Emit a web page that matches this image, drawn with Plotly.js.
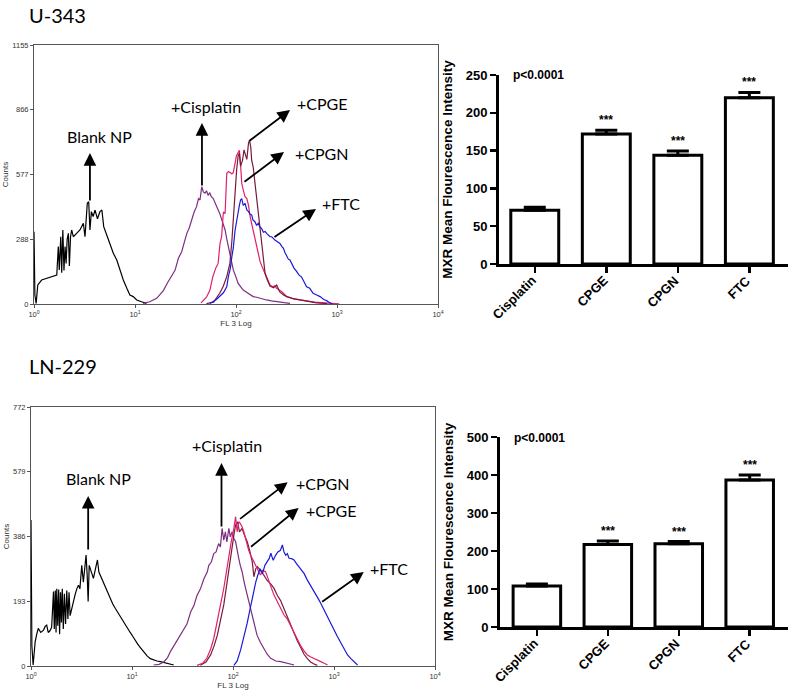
<!DOCTYPE html>
<html><head><meta charset="utf-8">
<script src="https://cdn.plot.ly/plotly-3.0.1.min.js"></script>
<style>html,body{margin:0;padding:0;background:#fff}#chart{width:788px;height:691px}</style>
</head><body><div id="chart"></div><script>
// ---------- Bar chart data ----------
const categories = ['Cisplatin', 'CPGE', 'CPGN', 'FTC'];
const u343Mean = [71, 172, 144, 220];
const u343Err = [4, 5, 5.5, 7];
const ln229Mean = [108, 217, 219, 387];
const ln229Err = [5, 9, 6, 13];
const sigStars = ['', '***', '***', '***'];
const pText = 'p<0.0001';

// ---------- Histogram data: U-343 (FL3 value, counts) ----------
const u343BlankX = [1.00,1.02,1.05,1.09,1.19,1.33,1.50,1.68,1.74,1.78,1.84,1.88,1.93,1.98,2.03,2.08,2.13,2.19,2.24,2.30,2.36,2.45,2.64,2.85,3.08,3.20,3.37,3.48,3.58,3.70,3.85,4.02,4.25,4.50,4.70,4.90,5.25,5.66,6.10,6.60,7.10,7.66,8.30,8.90,9.60,10.4,11.6,13.0];
const u343BlankY = [322,40,3,85,107,114,122,129,256,152,300,140,330,150,256,181,290,315,170,300,330,300,315,330,360,300,449,456,330,412,390,419,380,412,419,345,308,270,226,196,152,107,70,40,33,18,10,3];
const u343CisX = [12,14,16.4,19.1,21,22.2,24,24.9,26.9,29,31,32.6,34.5,36.3,38.5,40.7,42.5,44,45.8,47.5,49.4,51,53,55,57,59.5,62,65,69,73,78,81,84,89,94,100,105,112,118,125,132,140,148,160,172,185,200,225,252,300,343];
const u343CisY = [3,10,25,60,95,115,140,150,204,233,280,315,340,375,410,434,470,464,523,500,494,505,486,495,479,470,449,430,404,370,330,290,256,200,152,120,92,75,62,55,48,40,33,30,25,20,18,14,10,6,3];
const u343CpgnX = [45,51,55,59,63,66.5,69.5,72,75,78,81,84,88,91,94,98,101,105,108,111,114,118,123,128,133,138,143,148,154,160,166,173,180,187,194,201,209,217,225,234,243,252,262,273,284,295,318,345,380,430,500,600,750,900,1050];
const u343CpgnY = [5,30,60,122,160,181,270,300,410,404,583,590,586,580,586,640,660,675,685,620,538,508,479,470,440,390,360,330,285,256,225,190,170,150,135,122,105,85,80,77,82,70,66,62,55,48,33,28,22,18,12,8,5,3,1];
const u343CpgeX = [51,60,69,75,81,87,91,94,98,101.5,105,108,111,116,120,125,128,133,136,140,143,148,154,160,166,172,180,187,194,201,209,217,235,253,270,295,318,360,430,520,630,800];
const u343CpgeY = [2,8,48,80,122,181,280,389,523,600,660,672,615,640,687,660,645,717,731,700,640,610,540,480,404,340,256,200,137,115,95,80,72,85,55,40,33,25,18,10,5,2];
const u343FtcX = [55,64,75,81,84,88,91,94,98,102,105,108,111,114,118,123,128,133,138,143,147,154,160,166,172,180,187,194,201,210,217,226,235,243,253,263,272,285,295,305,317,330,342,355,375,398,420,446,463,500,537,580,630,680,740,790,850,900];
const u343FtcY = [2,20,50,77,122,160,211,250,330,380,419,440,464,470,440,449,419,412,400,397,375,367,350,360,345,335,320,323,315,305,300,300,290,285,280,275,270,256,248,230,211,200,196,181,160,145,130,120,107,77,70,48,40,33,20,15,5,1];

// ---------- Histogram data: LN-229 ----------
const ln229BlankX = [1.00,1.02,1.05,1.10,1.14,1.18,1.25,1.33,1.38,1.43,1.48,1.54,1.60,1.67,1.70,1.74,1.77,1.80,1.84,1.88,1.92,1.96,2.00,2.04,2.09,2.14,2.20,2.26,2.32,2.38,2.44,2.53,2.63,2.73,2.84,2.95,3.05,3.12,3.18,3.30,3.40,3.51,3.60,3.68,3.77,3.85,4.00,4.15,4.35,4.55,4.70,4.84,5.10,5.42,5.75,6.08,6.45,6.82,7.20,7.64,8.10,8.57,9.10,9.60,10.2,10.8,11.4,12.1,13.0,14.1,15.2,16.4,17.7,19.1,20.6,22.2,24.0,25.9];
const ln229BlankY = [435,60,3,73,95,112,100,107,118,122,100,105,115,222,110,225,100,230,120,228,95,220,130,230,110,215,125,225,140,220,150,172,200,212,230,241,230,271,300,250,290,331,270,192,300,291,270,261,290,316,280,271,255,236,220,202,185,172,160,147,135,122,110,100,88,75,65,55,42,30,22,18,15,13,10,8,5,3];
const ln229CisX = [16.4,18.5,20.6,22.5,24,26,28,30,32.5,35,38,41,44,47.6,51.5,55.6,57.6,61,64.5,68,72,75,78,81,84,87,91,94,98,102,106,110,114,118,123,130,138,146,155,164,173,187,202,218,236,265,297,350,403];
const ln229CisY = [3,5,12,25,43,60,75,90,110,125,160,180,210,230,260,280,300,310,335,340,365,355,410,375,400,370,410,385,400,380,371,340,321,300,281,245,212,180,152,120,92,70,53,35,23,15,13,8,3];
const ln229CpgnX = [44,50,55,60,64.5,68,72,76,81,86,91,96,102,106,110,114,118,123,128,133,138,143,149,155,161,168,175,187,197,210,220,227,240,254,275,297,320,345,372,403,435,468,505,545,590,635,690,740,800,863];
const ln229CpgnY = [2,8,23,50,82,115,152,190,231,280,331,370,410,445,400,430,425,415,400,380,361,345,331,320,311,300,291,271,285,281,265,251,232,212,192,172,152,140,120,100,80,60,45,33,27,23,18,13,8,3];
const ln229CpgeX = [47.5,54,60,65,70,75,81,86,91,96,102,106,111,116,123,130,138,146,150,155,161,168,175,188,202,218,236,254,275,296,320,345,372,402,433,468,505,545,587,635,683];
const ln229CpgeY = [2,12,33,60,92,135,182,235,291,340,390,420,430,400,410,390,371,345,330,311,266,290,296,285,271,255,245,232,210,195,170,150,125,100,75,55,35,22,12,6,2];
const ln229FtcX = [102,110,119,128,138,150,161,168,174,185,196,207,218,228,237,250,264,278,295,308,320,333,345,359,380,402,425,451,478,505,545,588,620,659,700,739,800,860,930,1003,1080,1169,1260,1362,1470,1587,1710];
const ln229FtcY = [2,15,48,85,127,180,227,250,266,290,276,300,311,320,336,315,330,340,345,361,340,330,335,321,320,316,305,296,285,276,256,240,227,215,200,187,165,147,127,107,88,68,50,33,22,13,3];

const histLabels = ['Blank NP', '+Cisplatin', '+CPGE', '+CPGN', '+FTC'];
const u343Ticks = [0, 288, 577, 866, 1155];
const ln229Ticks = [0, 193, 386, 579, 772];
const logTickVals = [1, 10, 100, 1000, 10000];
const logTickText = ['10<sup>0</sup>', '10<sup>1</sup>', '10<sup>2</sup>', '10<sup>3</sup>', '10<sup>4</sup>'];

// ---------- styles ----------
const colBlank = '#000000', colCis = '#7d2e82', colCpgn = '#e0206e', colCpge = '#7a1a3a', colFtc = '#1a1ad6';
const W = 788, H = 691;
const px = v => v / W, py = v => 1 - v / H;

function line(x, y, c, xa, ya) {
  return {type: 'scatter', mode: 'lines', x: x, y: y, xaxis: xa, yaxis: ya,
    line: {color: c, width: 1.2}, hoverinfo: 'skip'};
}
function bars(mean, err, xa, ya) {
  return {type: 'bar', x: categories, y: mean, xaxis: xa, yaxis: ya, width: 0.67,
    marker: {color: '#ffffff', line: {color: '#000', width: 3}},
    error_y: {type: 'data', symmetric: false, array: err, arrayminus: err.map(() => 0),
      color: '#000', thickness: 3, width: 11}, hoverinfo: 'skip'};
}

const traces = [
  line(u343BlankX, u343BlankY, colBlank, 'x', 'y'),
  line(u343CisX, u343CisY, colCis, 'x', 'y'),
  line(u343CpgnX, u343CpgnY, colCpgn, 'x', 'y'),
  line(u343CpgeX, u343CpgeY, colCpge, 'x', 'y'),
  line(u343FtcX, u343FtcY, colFtc, 'x', 'y'),
  bars(u343Mean, u343Err, 'x2', 'y2'),
  line(ln229BlankX, ln229BlankY, colBlank, 'x3', 'y3'),
  line(ln229CisX, ln229CisY, colCis, 'x3', 'y3'),
  line(ln229CpgeX, ln229CpgeY, colCpge, 'x3', 'y3'),
  line(ln229CpgnX, ln229CpgnY, colCpgn, 'x3', 'y3'),
  line(ln229FtcX, ln229FtcY, colFtc, 'x3', 'y3'),
  bars(ln229Mean, ln229Err, 'x4', 'y4')
];

const smallFont = {family: 'Liberation Sans, Arial, sans-serif', size: 7.5, color: '#333'};
function histX(dom, anchor) {
  return {type: 'log', domain: dom, anchor: anchor, range: [0, 4], tickvals: logTickVals, ticktext: logTickText,
    showline: true, mirror: true, linecolor: '#555', linewidth: 1, ticks: 'outside', ticklen: 3, tickcolor: '#555',
    tickfont: smallFont, showgrid: false, zeroline: false,
    title: {text: 'FL 3 Log', font: {family: 'Liberation Sans, Arial, sans-serif', size: 8, color: '#333'}, standoff: 1}};
}
function histY(dom, anchor, ticks) {
  return {domain: dom, anchor: anchor, range: [0, ticks[4]], tickvals: ticks, ticktext: ticks.map(String),
    showline: true, mirror: true, linecolor: '#555', linewidth: 1, ticks: 'outside', ticklen: 3, tickcolor: '#555',
    tickfont: smallFont, showgrid: false, zeroline: false,
    title: {text: 'Counts', font: {family: 'Liberation Sans, Arial, sans-serif', size: 8, color: '#333'}, standoff: 2}};
}
const boldFont = {family: 'Liberation Sans, Arial, sans-serif', size: 13, color: '#000', weight: 'bold'};
function barX(dom, anchor, rng) {
  return {domain: dom, anchor: anchor, range: rng, showline: true, linecolor: '#000', linewidth: 3,
    ticks: 'outside', ticklen: 6, tickwidth: 2.5, tickcolor: '#000', showticklabels: false,
    showgrid: false, zeroline: false};
}
function barY(dom, anchor, top, dt) {
  return {domain: dom, anchor: anchor, range: [0, top], dtick: dt, showline: true, linecolor: '#000', linewidth: 3,
    ticks: 'outside', ticklen: 6, tickwidth: 2.5, tickcolor: '#000', tickfont: boldFont,
    showgrid: false, zeroline: false,
    title: {text: 'MXR Mean Flourescence Intensity', font: {family: 'Liberation Sans, Arial, sans-serif', size: 13.5, color: '#000', weight: 'bold'}, standoff: 10}};
}

const ann = [];
const labelFont = {family: 'Lato, sans-serif', size: 16, color: '#000'};
function addLabel(xr, yr, text, lx, ly) {
  ann.push({xref: xr, yref: yr, x: lx, y: ly, text: text, showarrow: false, font: labelFont, xanchor: 'center', yanchor: 'middle'});
}
function addArrow(xr, yr, tx, ty, hx, hy) {
  ann.push({xref: xr, yref: yr, axref: xr, ayref: yr, x: hx, y: hy, ax: tx, ay: ty, text: '', showarrow: true,
    arrowhead: 2, arrowsize: 1.4, arrowwidth: 1.8, arrowcolor: '#000', standoff: 0, startstandoff: 0});
}
// U-343 labels (x in log10 units on the log axis)
addLabel('x', 'y', histLabels[0], 0.644, 749); addArrow('x', 'y', 0.554, 455, 0.554, 673);
addLabel('x', 'y', histLabels[1], 1.703, 879); addArrow('x', 'y', 1.663, 522, 1.663, 807);
addLabel('x', 'y', histLabels[2], 2.861, 896); addArrow('x', 'y', 2.119, 723, 2.535, 865);
addLabel('x', 'y', histLabels[3], 2.851, 673); addArrow('x', 'y', 2.069, 540, 2.475, 678);
addLabel('x', 'y', histLabels[4], 3.04, 446); addArrow('x', 'y', 2.366, 294, 2.792, 424);
// LN-229 labels
addLabel('x3', 'y3', histLabels[0], 0.665, 560); addArrow('x3', 'y3', 0.566, 343, 0.566, 507);
addLabel('x3', 'y3', histLabels[1], 1.945, 656); addArrow('x3', 'y3', 1.886, 411, 1.886, 605);
addLabel('x3', 'y3', histLabels[3], 2.888, 543); addArrow('x3', 'y3', 2.055, 435, 2.541, 548);
addLabel('x3', 'y3', histLabels[2], 2.978, 462); addArrow('x3', 'y3', 2.164, 352, 2.65, 471);
addLabel('x3', 'y3', histLabels[4], 3.543, 292); addArrow('x3', 'y3', 2.868, 188, 3.295, 280);

// rotated category labels and stars above bars
const starFont = {family: 'Liberation Sans, Arial, sans-serif', size: 12, color: '#000', weight: 'bold'};
categories.forEach((c, i) => {
  ann.push({xref: 'x2', yref: 'y2', x: c, y: 0, text: c, textangle: -45, showarrow: false, font: boldFont,
    xanchor: 'right', yanchor: 'top', xshift: 7, yshift: -6});
  ann.push({xref: 'x4', yref: 'y4', x: c, y: 0, text: c, textangle: -45, showarrow: false, font: boldFont,
    xanchor: 'right', yanchor: 'top', xshift: 7, yshift: -6});
  if (sigStars[i]) {
    ann.push({xref: 'x2', yref: 'y2', x: c, y: u343Mean[i] + u343Err[i], text: sigStars[i], showarrow: false, font: starFont, yanchor: 'bottom', yshift: 1});
    ann.push({xref: 'x4', yref: 'y4', x: c, y: ln229Mean[i] + ln229Err[i], text: sigStars[i], showarrow: false, font: starFont, yanchor: 'bottom', yshift: 1});
  }
});
const pFont = {family: 'Liberation Sans, Arial, sans-serif', size: 12, color: '#000', weight: 'bold'};
ann.push({xref: 'paper', yref: 'paper', x: px(511), y: py(75), text: pText, showarrow: false, font: pFont, xanchor: 'left', yanchor: 'middle'});
ann.push({xref: 'paper', yref: 'paper', x: px(512), y: py(438), text: pText, showarrow: false, font: pFont, xanchor: 'left', yanchor: 'middle'});
// panel titles
const panelFont = {family: 'Lato, sans-serif', size: 20, color: '#000'};
ann.push({xref: 'paper', yref: 'paper', x: px(27), y: py(1), text: 'U-343', showarrow: false, font: panelFont, xanchor: 'left', yanchor: 'top'});
ann.push({xref: 'paper', yref: 'paper', x: px(27), y: py(366), text: 'LN-229', showarrow: false, font: panelFont, xanchor: 'left', yanchor: 'middle'});

const layout = {
  width: W, height: H, margin: {l: 0, r: 0, t: 0, b: 0}, showlegend: false,
  paper_bgcolor: '#fff', plot_bgcolor: '#fff',
  xaxis: histX([px(34), px(438)], 'y'),
  yaxis: histY([py(304), py(45)], 'x', u343Ticks),
  xaxis2: barX([px(499), 1], 'y2', [-0.5, 3.54]),
  yaxis2: barY([py(264), py(75)], 'x2', 250, 50),
  xaxis3: histX([px(31), px(435)], 'y3'),
  yaxis3: histY([py(666), py(407)], 'x3', ln229Ticks),
  xaxis4: barX([px(500), 1], 'y4', [-0.52, 3.54]),
  yaxis4: barY([py(627), py(437)], 'x4', 500, 100),
  annotations: ann
};
Plotly.newPlot('chart', traces, layout, {staticPlot: true, displayModeBar: false});
</script></body></html>
